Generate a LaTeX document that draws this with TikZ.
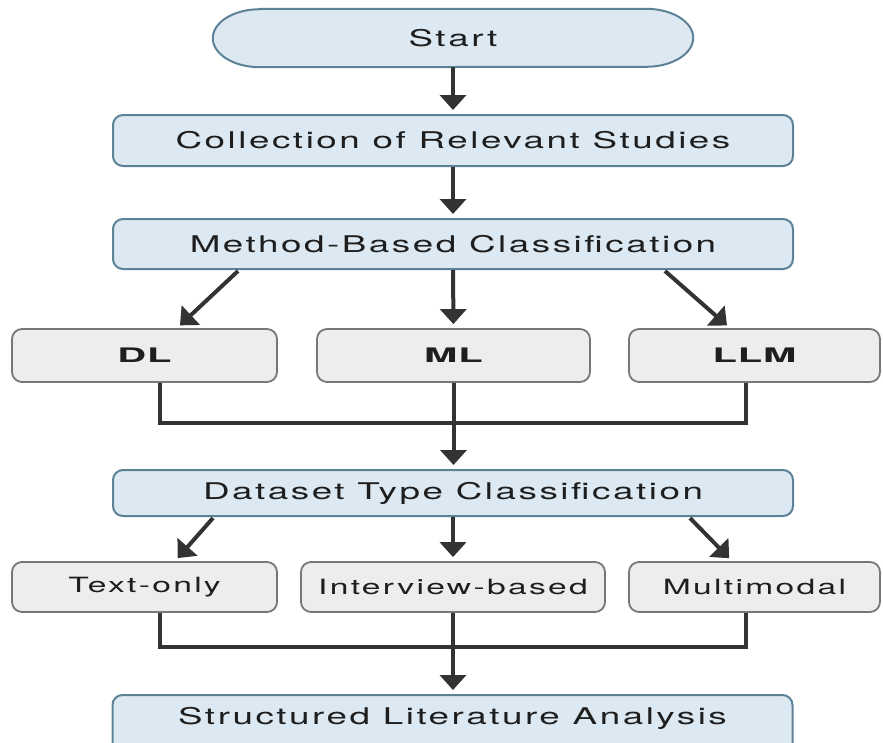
\documentclass[tikz,border=0pt]{standalone}
\usepackage{fontspec}
\setmainfont{TeX Gyre Heros}[FakeStretch=1.6, LetterSpace=11]
\newfontfamily\widebold{TeX Gyre Heros}[FakeStretch=2.0, LetterSpace=4]
\usetikzlibrary{arrows.meta,calc,backgrounds}
\definecolor{bluefill}{HTML}{DDE9F2}
\definecolor{blueline}{HTML}{5D8197}
\definecolor{grayfill}{HTML}{EDEDED}
\definecolor{grayline}{HTML}{777777}
\definecolor{ink}{HTML}{333333}
\definecolor{txt}{HTML}{1E1E1E}
\begin{document}
\begin{tikzpicture}[x=1pt,y=-1pt,
  stagebox/.style={draw=blueline, line width=2pt, fill=bluefill, rounded corners=10pt,
    minimum width=680pt, minimum height=50pt, inner sep=0pt,
    font=\fontsize{23}{26}\selectfont, text=txt},
  classbox/.style={draw=grayline, line width=1.8pt, fill=grayfill, rounded corners=10pt,
    minimum height=53pt, inner sep=0pt, text=txt},
  methodtxt/.style={font=\widebold\bfseries\fontsize{20}{24}\selectfont},
  datatxt/.style={font=\fontsize{21}{24}\selectfont, minimum height=50pt},
  flow/.style={draw=ink, line width=4pt, -{Triangle[width=26pt,length=15pt]}, shorten >=4pt},
  joinline/.style={draw=ink, line width=3.5pt},
]
\useasboundingbox (0,0) rectangle (883,742);

% start terminal (text only; its outline is drawn on the background layer)
\node[minimum width=480pt, minimum height=58pt, inner sep=0pt,
      font=\fontsize{23}{26}\selectfont, text=txt] (start) at (453,38) {Start};
\begin{scope}[on background layer]
  \draw[blueline, line width=2pt, fill=bluefill]
    ([xshift=47pt]start.north west) -- ([xshift=-47pt]start.north east)
    arc[start angle=90, end angle=-90, x radius=47pt, y radius=29pt]
    -- ([xshift=47pt]start.south west)
    arc[start angle=270, end angle=90, x radius=47pt, y radius=29pt] -- cycle;
\end{scope}

% main stages
\node[stagebox, minimum height=51pt] (collect) at (453,140.5) {Collection of Relevant Studies};
\node[stagebox] (method) at (453,244) {Method-Based Classification};
\node[stagebox, minimum height=46pt] (dataset) at (453,493) {Dataset Type Classification};
\node[stagebox, minimum height=60pt] (final) at (452.5,725) {};
\node[font=\fontsize{23}{26}\selectfont, text=txt] at (452.5,718) {Structured Literature Analysis};

% method classes
\node[classbox, methodtxt, minimum width=265pt] (dl)  at (144.5,355.5) {DL};
\node[classbox, methodtxt, minimum width=273pt] (ml)  at (453.5,355.5) {ML};
\node[classbox, methodtxt, minimum width=251pt] (llm) at (754.5,355.5) {LLM};

% dataset classes
\node[classbox, datatxt, minimum width=265pt] (textonly)  at (144.5,587) {Text-only};
\node[classbox, datatxt, minimum width=304pt] (interview) at (453,587) {Interview-based};
\node[classbox, datatxt, minimum width=251pt] (multi)     at (754.5,587) {Multimodal};

% flow arrows
\draw[flow] (start) -- (collect);
\draw[flow] (collect) -- (method);
\draw[flow] ($(method.south)+(-215,1)$) -- ($(dl.north)+(32.5,0)$);
\draw[flow] (method) -- (ml);
\draw[flow] ($(method.south)+(212,1)$) -- ($(llm.north)+(-24.5,0)$);

\draw[joinline] ($(dl.south)+(15.5,0)$) -- ++(0,40) -| ($(llm.south)+(-8.5,0)$);
\draw[flow] (ml.south) -- (ml.south |- dataset.north);

\draw[flow] ($(dataset.south)+(-240,1)$) -- ($(textonly.north)+(30.5,0)$);
\draw[flow] (dataset) -- (interview);
\draw[flow] ($(dataset.south)+(237,1)$) -- ($(multi.north)+(-22.5,0)$);

\draw[joinline] ($(textonly.south)+(15.5,0)$) -- ++(0,34) -| ($(multi.south)+(-8.5,0)$);
\draw[flow] (interview.south) -- (interview.south |- final.north);
\end{tikzpicture}
\end{document}
